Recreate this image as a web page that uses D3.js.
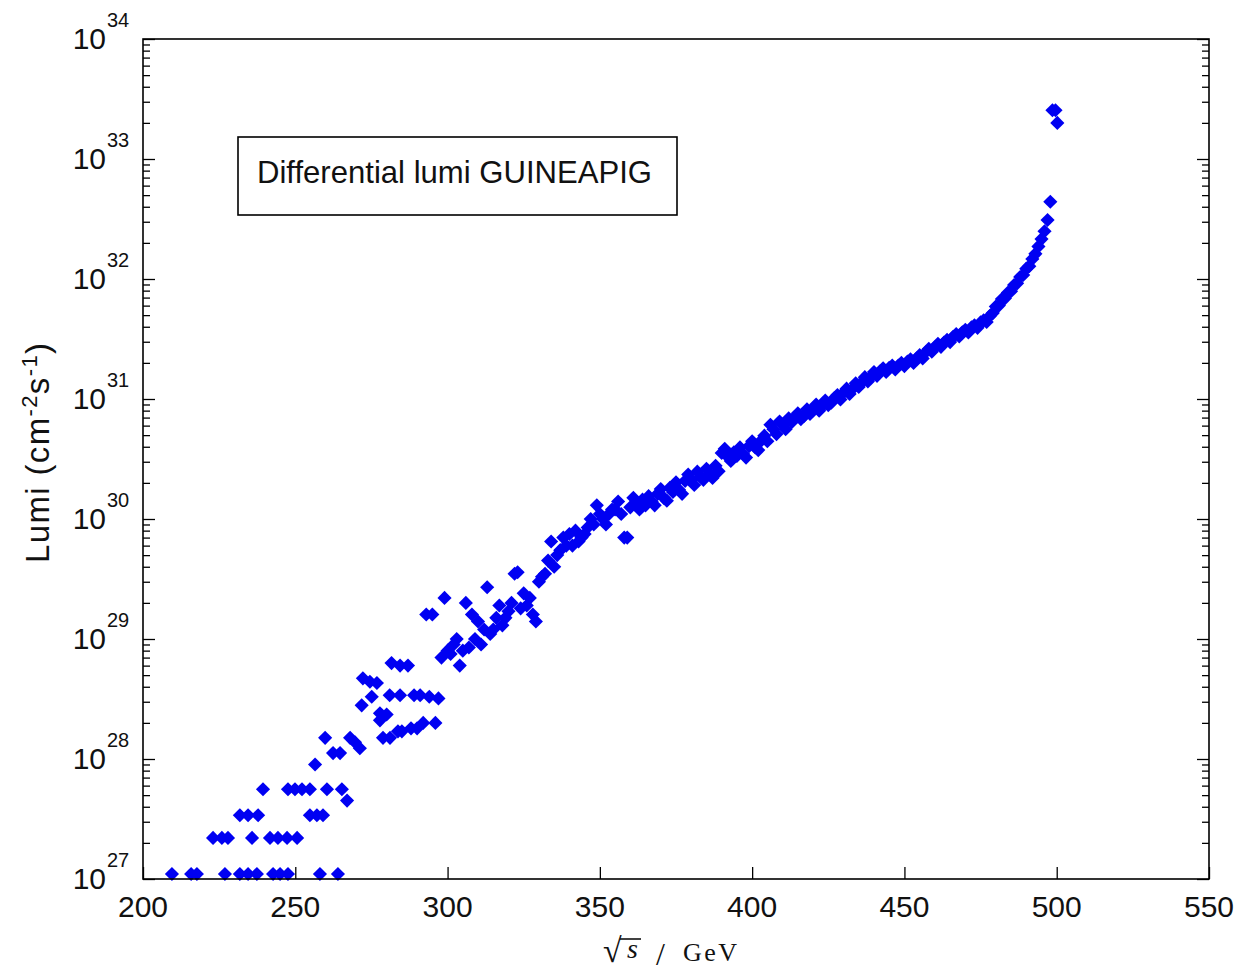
<!DOCTYPE html>
<html>
<head>
<meta charset="utf-8">
<script src="https://cdn.jsdelivr.net/npm/d3@7"></script>
<style>
  body { margin: 0; background: #fff; }
  svg { display: block; }
</style>
</head>
<body>
<svg id="chart" width="1238" height="972"></svg>
<script>
// ---- axis definitions ----
const xTickValues = [200, 250, 300, 350, 400, 450, 500, 550];
const yExponents = [27, 28, 29, 30, 31, 32, 33, 34];
const legendLabel = "Differential lumi GUINEAPIG";

// ---- differential luminosity [sqrt(s) in GeV, lumi in cm^-2 s^-1] ----
// sparse low-energy tail (few-event bins)
const tailBins = [
  [209.5, 1.1e27], [215.8, 1.1e27], [217.7, 1.1e27], [226.9, 1.1e27],
  [231.8, 1.1e27], [234.5, 1.1e27], [237.4, 1.1e27], [242.7, 1.1e27],
  [245.0, 1.1e27], [247.6, 1.1e27], [258.1, 1.1e27], [264.0, 1.1e27],
  [223.0, 2.2e27], [225.9, 2.2e27], [227.9, 2.2e27], [235.8, 2.2e27],
  [241.7, 2.2e27], [244.3, 2.2e27], [247.3, 2.2e27], [250.6, 2.2e27],
  [231.8, 3.4e27], [234.5, 3.4e27], [237.8, 3.4e27], [254.8, 3.4e27],
  [257.1, 3.4e27], [259.1, 3.4e27],
  [239.4, 5.6e27], [247.6, 5.6e27], [249.9, 5.6e27], [252.2, 5.6e27],
  [254.8, 5.6e27], [260.4, 5.6e27], [265.3, 5.6e27], [267.0, 4.5e27],
  [256.5, 9.0e27], [262.4, 1.12e28], [264.7, 1.12e28], [259.8, 1.5e28],
  [268.0, 1.5e28], [269.6, 1.38e28], [271.2, 1.23e28],
  [278.8, 1.5e28], [281.1, 1.5e28], [283.7, 1.7e28],
  [277.8, 2.4e28], [280.0, 2.35e28], [277.8, 2.1e28],
  [271.8, 2.8e28], [275.1, 3.3e28], [281.0, 3.4e28], [284.4, 3.4e28],
  [272.2, 4.7e28], [274.5, 4.4e28], [276.8, 4.3e28],
  [281.6, 6.3e28], [284.4, 6.0e28]
];

// rising middle section
const midBins = [
  [285, 1.7e28], [287, 6e28], [288, 1.8e28], [289, 3.4e28], [290, 1.8e28],
  [291, 3.4e28], [292, 2e28], [293, 1.6e29], [294, 3.3e28], [295, 1.6e29],
  [296, 2e28], [297, 3.2e28], [298, 7e28], [299, 2.2e29], [300, 8e28],
  [301, 7.5e28], [302, 9e28], [303, 1e29], [304, 6e28], [305, 8e28],
  [306, 2e29], [307, 8.5e28], [308, 1.6e29], [309, 1e29], [310, 1.4e29],
  [311, 9e28], [312, 1.2e29], [313, 2.7e29], [314, 1.1e29], [315, 1.2e29],
  [316, 1.5e29], [317, 1.9e29], [318, 1.3e29], [319, 1.5e29], [320, 1.7e29],
  [321, 2e29], [322, 3.5e29], [323, 3.6e29], [324, 1.8e29], [325, 2.4e29],
  [326, 1.9e29], [327, 2.2e29], [328, 1.6e29], [329, 1.4e29], [330, 3e29],
  [331, 3.3e29], [332, 3.5e29], [333, 4.5e29], [334, 6.5e29], [335, 4e29],
  [336, 5e29], [337, 5.5e29], [338, 7e29], [339, 6e29], [340, 7.5e29],
  [341, 6e29], [342, 8e29], [343, 6.5e29], [344, 7e29], [345, 7.5e29],
  [346, 8.5e29], [347, 1e30], [348, 9e29], [349, 1.3e30], [350, 1.1e30],
  [351, 1e30], [352, 9e29], [353, 1.1e30], [354, 1.2e30], [355, 1.2e30],
  [356, 1.4e30], [357, 1.1e30], [358, 7e29], [359, 7e29], [360, 1.25e30],
  [361, 1.5e30], [362, 1.35e30], [363, 1.2e30], [364, 1.45e30], [365, 1.3e30],
  [366, 1.55e30], [367, 1.4e30], [368, 1.3e30], [369, 1.62e30], [370, 1.78e30],
  [371, 1.5e30], [372, 1.42e30], [373, 1.82e30], [374, 1.68e30], [375, 2.02e30],
  [376, 1.75e30], [377, 1.62e30], [378, 2.08e30], [379, 2.35e30], [380, 2.1e30],
  [381, 1.92e30], [382, 2.48e30], [383, 2.25e30], [384, 2.12e30], [385, 2.62e30],
  [386, 2.4e30], [387, 2.2e30], [388, 2.78e30], [389, 2.5e30], [390, 3.55e30],
  [391, 3.85e30], [392, 3.3e30], [393, 3.05e30], [394, 3.6e30], [395, 3.35e30],
  [396, 3.95e30], [397, 3.5e30], [398, 3.25e30], [399, 4.05e30]
];

// upper section up to the beam-energy peak
const highBins = [
  [400, 4.45e30], [401, 3.95e30], [402, 3.75e30], [403, 4.5e30], [404, 4.95e30],
  [405, 4.45e30], [406, 6.1e30], [407, 5.6e30], [408, 5.1e30], [409, 6.5e30],
  [410, 6.1e30], [411, 5.6e30], [412, 6.9e30], [413, 6.4e30], [414, 7.0e30],
  [415, 7.6e30], [416, 6.8e30], [417, 7.2e30], [418, 8.2e30], [419, 7.5e30],
  [420, 8.3e30], [421, 9.0e30], [422, 8.0e30], [423, 8.7e30], [424, 9.7e30],
  [425, 8.9e30], [426, 9.3e30], [427, 1.02e31], [428, 1.08e31], [429, 9.9e30],
  [430, 1.13e31], [431, 1.22e31], [432, 1.1e31], [433, 1.22e31], [434, 1.35e31],
  [435, 1.26e31], [436, 1.38e31], [437, 1.52e31], [438, 1.4e31], [439, 1.52e31],
  [440, 1.68e31], [441, 1.56e31], [442, 1.7e31], [443, 1.8e31], [444, 1.68e31],
  [445, 1.82e31], [446, 1.9e31], [447, 1.76e31], [448, 1.9e31], [449, 2.0e31],
  [450, 1.88e31], [451, 2.05e31], [452, 2.14e31], [453, 2.0e31], [454, 2.18e31],
  [455, 2.32e31], [456, 2.18e31], [457, 2.45e31], [458, 2.62e31], [459, 2.48e31],
  [460, 2.7e31], [461, 2.88e31], [462, 2.72e31], [463, 2.95e31], [464, 3.12e31],
  [465, 2.98e31], [466, 3.3e31], [467, 3.48e31], [468, 3.32e31], [469, 3.6e31],
  [470, 3.78e31], [471, 3.58e31], [472, 3.95e31], [473, 4.12e31], [474, 3.92e31],
  [475, 4.35e31], [476, 4.52e31], [477, 4.38e31], [478, 4.9e31], [479, 5.2e31],
  [480, 5.9e31], [481, 6.0e31], [482, 6.8e31], [483, 6.9e31], [484, 7.7e31],
  [485, 7.9e31], [486, 8.9e31], [487, 9.2e31], [488, 1.04e32], [489, 1.08e32],
  [490, 1.22e32], [491, 1.28e32], [492, 1.47e32], [493, 1.62e32], [494, 1.87e32],
  [495, 2.15e32], [496, 2.5e32], [497, 3.1e32], [497.9, 4.4e32],
  [498.6, 2.55e33], [499.6, 2.55e33], [500.2, 2.0e33]
];

const allBins = tailBins.concat(midBins, highBins);

// ---- layout ----
const plot = { left: 143, top: 39, right: 1209, bottom: 879 };
const svg = d3.select("#chart");
const tickFont = "'Liberation Sans', Arial, sans-serif";
const serifFont = "'Liberation Serif', 'Times New Roman', serif";

const x = d3.scaleLinear().domain([200, 550]).range([plot.left, plot.right]);
const y = d3.scaleLog().domain([1e27, 1e34]).range([plot.bottom, plot.top]);

// white background
svg.append("rect").attr("width", 1238).attr("height", 972).attr("fill", "#fff");

// ---- markers: filled diamonds ----
const diamond = d3.symbol().type(d3.symbolSquare).size(100);
svg.append("g")
  .selectAll("path")
  .data(allBins)
  .join("path")
  .attr("d", diamond)
  .attr("transform", d => `translate(${x(d[0])},${y(d[1])}) rotate(45)`)
  .attr("fill", "#0000f2");

// ---- axes (ticks point inward) ----
const majorY = yExponents.map(e => Math.pow(10, e));
const minorY = [];
yExponents.slice(0, -1).forEach(e => {
  for (let k = 2; k <= 9; k++) minorY.push(k * Math.pow(10, e));
});

function styleAxis(g) {
  g.select(".domain").remove();
  g.selectAll("line").attr("stroke", "#000").attr("stroke-width", 1.3);
}

// bottom x axis
svg.append("g")
  .attr("transform", `translate(0,${plot.bottom})`)
  .call(d3.axisBottom(x).tickValues(xTickValues).tickSize(-12).tickFormat(""))
  .call(styleAxis);

// left and right y axes: major and minor
[[d3.axisLeft, plot.left], [d3.axisRight, plot.right]].forEach(([ax, px]) => {
  svg.append("g").attr("transform", `translate(${px},0)`)
    .call(ax(y).tickValues(majorY).tickSize(-12).tickFormat(""))
    .call(styleAxis);
  svg.append("g").attr("transform", `translate(${px},0)`)
    .call(ax(y).tickValues(minorY).tickSize(-7).tickFormat(""))
    .call(styleAxis);
});

// frame
svg.append("rect")
  .attr("x", plot.left).attr("y", plot.top)
  .attr("width", plot.right - plot.left).attr("height", plot.bottom - plot.top)
  .attr("fill", "none").attr("stroke", "#000").attr("stroke-width", 1.6);

// x tick labels
svg.append("g").selectAll("text")
  .data(xTickValues)
  .join("text")
  .attr("x", d => x(d))
  .attr("y", plot.bottom + 38)
  .attr("text-anchor", "middle")
  .attr("font-family", tickFont)
  .attr("font-size", 30)
  .attr("fill", "#111")
  .text(d => d);

// y tick labels as powers of ten
const yLab = svg.append("g").selectAll("g")
  .data(yExponents)
  .join("g")
  .attr("transform", d => `translate(106,${y(Math.pow(10, d))})`);
yLab.append("text")
  .attr("x", 0).attr("y", 10)
  .attr("text-anchor", "end")
  .attr("font-family", tickFont).attr("font-size", 30).attr("fill", "#111")
  .text("10");
yLab.append("text")
  .attr("x", 1).attr("y", -12)
  .attr("font-family", tickFont).attr("font-size", 20).attr("fill", "#111")
  .text(d => d);

// y axis title
const yTitle = svg.append("text")
  .attr("transform", "translate(49,453) rotate(-90)")
  .attr("text-anchor", "middle")
  .attr("font-family", tickFont).attr("font-size", 33).attr("fill", "#111")
  .attr("textLength", 220).attr("lengthAdjust", "spacing");
yTitle.append("tspan").text("Lumi (cm");
yTitle.append("tspan").attr("dy", -12).attr("font-size", 22).text("-2");
yTitle.append("tspan").attr("dy", 12).text("s");
yTitle.append("tspan").attr("dy", -12).attr("font-size", 22).text("-1");
yTitle.append("tspan").attr("dy", 12).text(")");

// x axis title: sqrt(s) / GeV
const xTitle = svg.append("g").attr("font-family", serifFont).attr("fill", "#111");
xTitle.append("text").attr("x", 603).attr("y", 962).attr("font-size", 34).text("\u221A");
const sGlyph = xTitle.append("text").attr("x", 627).attr("y", 958)
  .attr("font-size", 28).attr("font-style", "italic").text("s");
const sBox = sGlyph.node().getBBox();
xTitle.append("line")
  .attr("x1", 620).attr("x2", sBox.x + sBox.width + 3)
  .attr("y1", 939).attr("y2", 939)
  .attr("stroke", "#111").attr("stroke-width", 1.6);
xTitle.append("text").attr("x", 656).attr("y", 965).attr("font-size", 32).text("/");
xTitle.append("text").attr("x", 683).attr("y", 961).attr("font-size", 26)
  .attr("textLength", 54).attr("lengthAdjust", "spacing").text("GeV");

// legend box
const legend = svg.append("g");
legend.append("rect")
  .attr("x", 238).attr("y", 137).attr("width", 439).attr("height", 78)
  .attr("fill", "#fff").attr("stroke", "#000").attr("stroke-width", 1.6);
legend.append("text")
  .attr("x", 257).attr("y", 183)
  .attr("font-family", tickFont).attr("font-size", 32).attr("fill", "#111")
  .attr("textLength", 395).attr("lengthAdjust", "spacingAndGlyphs")
  .text(legendLabel);
</script>
</body>
</html>
